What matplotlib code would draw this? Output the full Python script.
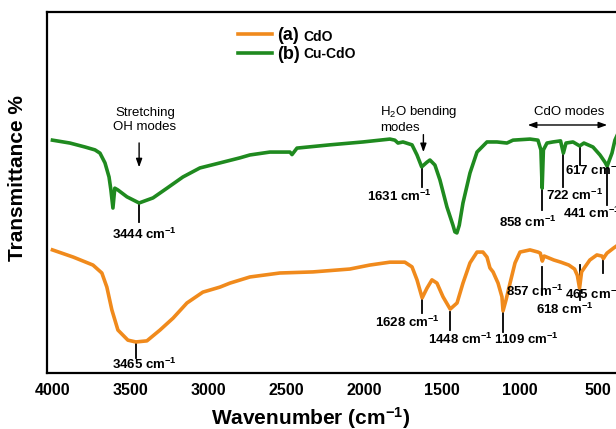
import matplotlib
matplotlib.use("Agg")
import matplotlib.pyplot as plt

plt.rcParams["font.family"] = ["Liberation Sans", "DejaVu Sans"]
plt.rcParams["mathtext.fontset"] = "custom"
plt.rcParams["mathtext.rm"] = "Liberation Sans"
plt.rcParams["mathtext.bf"] = "Liberation Sans:bold"
plt.rcParams["mathtext.it"] = "Liberation Sans:italic"

# ── FTIR spectra (wavenumber in cm-1, transmittance in arbitrary %) ──────────
wn_cucdo = [4000, 3888, 3791, 3727, 3695, 3663, 3637, 3625, 3612, 3600, 3580,
            3522, 3444, 3355, 3265, 3163, 3054, 2925, 2797, 2733, 2605, 2476,
            2463, 2431, 2220, 2008, 1835, 1803, 1783, 1751, 1693, 1661, 1631,
            1597, 1578, 1546, 1514, 1469, 1430, 1418, 1405, 1390, 1366, 1321,
            1276, 1212, 1148, 1084, 1045, 936, 885, 866, 858, 850, 827, 789,
            740, 722, 705, 660, 617, 590, 532, 487, 455, 441, 410, 391, 370]
t_cucdo = [64.5, 63.7, 62.6, 61.8, 60.9, 58.2, 54.3, 50.7, 45.7, 51.2, 50.7,
           48.8, 47.1, 48.5, 51.2, 54.3, 56.8, 58.2, 59.6, 60.4, 61.2, 61.2,
           60.5, 62.3, 63.2, 64.0, 64.8, 64.5, 63.7, 64.0, 63.2, 60.4, 57.1,
           58.4, 59.0, 57.6, 53.5, 46.0, 40.9, 39.1, 38.8, 40.9, 47.1, 55.4,
           61.2, 64.0, 64.0, 63.7, 64.5, 64.8, 64.5, 61.8, 51.2, 61.8, 63.7,
           64.0, 64.3, 60.9, 63.7, 64.0, 62.9, 63.7, 62.6, 60.4, 58.4, 57.3,
           60.9, 64.5, 66.5]

wn_cdo = [4000, 3866, 3740, 3683, 3651, 3619, 3580, 3516, 3465, 3394, 3310,
          3226, 3137, 3035, 2925, 2861, 2733, 2541, 2329, 2092, 1964, 1835,
          1739, 1693, 1661, 1628, 1597, 1565, 1533, 1494, 1448, 1404, 1366,
          1321, 1276, 1238, 1212, 1193, 1173, 1141, 1116, 1109, 1090, 1064,
          1032, 1000, 936, 885, 870, 857, 845, 783, 738, 687, 650, 632, 618,
          605, 583, 552, 507, 475, 465, 455, 442, 400, 370]
t_cdo = [34.1, 32.1, 29.9, 27.7, 23.8, 17.5, 11.9, 9.1, 8.6, 8.9, 11.9,
         15.2, 19.4, 22.4, 23.8, 24.9, 26.6, 27.7, 28.0, 28.8, 29.9, 30.7,
         30.7, 29.4, 25.8, 20.8, 23.5, 25.8, 24.9, 21.1, 17.7, 19.4, 24.9,
         30.5, 33.5, 33.5, 32.1, 29.1, 28.0, 24.9, 21.1, 17.2, 20.2, 24.9,
         30.5, 33.5, 34.1, 33.5, 33.2, 31.0, 32.4, 31.3, 30.7, 29.9, 28.8,
         27.0, 23.5, 28.0, 29.4, 31.3, 32.7, 32.4, 31.7, 32.4, 33.2, 34.6,
         35.5]

# peak positions and their marker spans (top, bottom)
peaks_cucdo = [3444, 1631, 858, 722, 617, 441]
span_cucdo = [(46.8, 41.8), (56.8, 51.5), (50.7, 45.2), (61.2, 51.5),
              (63.2, 57.6), (57.1, 46.5)]
peaks_cdo = [3465, 1628, 1448, 1109, 857, 618, 465]
span_cdo = [(8.6, 4.2), (20.2, 16.6), (16.9, 11.9), (16.6, 11.4),
            (29.4, 21.6), (29.9, 20.2), (32.1, 27.7)]

# where each peak label sits: (x, y, horizontal alignment)
label_pos_cucdo = [(3407, 38.5, "center"), (1777, 48.8, "center"),
                   (949, 41.8, "center"), (648, 49.3, "center"),
                   (712, 56.2, "left"), (725, 44.3, "left")]
label_pos_cdo = [(3407, 2.5, "center"), (1722, 14.1, "center"),
                 (1385, 9.4, "center"), (956, 9.4, "center"),
                 (904, 22.7, "center"), (712, 17.7, "center"),
                 (712, 21.9, "left")]

xticks = [4000, 3500, 3000, 2500, 2000, 1500, 1000, 500]

ORANGE = "#f08a1c"
GREEN = "#1f8a1f"

fig = plt.figure(figsize=(6.16, 4.29), dpi=100)
ax = fig.add_axes([47 / 616, 56 / 429, 603 / 616, 361 / 429])

line_a, = ax.plot(wn_cdo, t_cdo, color=ORANGE, lw=2.6, solid_joinstyle="round")
line_b, = ax.plot(wn_cucdo, t_cucdo, color=GREEN, lw=2.6, solid_joinstyle="round")

ax.set_xlim(4035, 166)
ax.set_ylim(0, 100)


def mark_peaks(peaks, spans, positions):
    for p, (y0, y1), (tx, ty, ha) in zip(peaks, spans, positions):
        ax.plot([p, p], [y0, y1], color="black", lw=1.3, zorder=1)
        ax.text(tx, ty, f"{p} cm$^{{\\mathbf{{-1}}}}$", ha=ha, va="center",
                fontsize=9.5, fontweight="bold")


mark_peaks(peaks_cucdo, span_cucdo, label_pos_cucdo)
mark_peaks(peaks_cdo, span_cdo, label_pos_cdo)

arrow = dict(arrowstyle="-|>,head_length=0.5,head_width=0.18", color="black", lw=1.0)
ax.annotate("", xy=(3444, 56.2), xytext=(3444, 64.5), arrowprops=arrow)
ax.text(3407, 70.1, "Stretching\nOH modes", ha="center", va="center",
        fontsize=9.5, linespacing=1.25)

ax.annotate("", xy=(1620, 60.4), xytext=(1620, 66.8), arrowprops=arrow)
ax.text(1899, 70.4, "H$\\mathregular{_2}$O bending\nmodes", ha="left",
        va="center", fontsize=9.5, linespacing=1.25)

ax.annotate("", xy=(968, 68.7), xytext=(423, 68.7),
            arrowprops=dict(arrowstyle="<|-|>,head_length=0.5,head_width=0.18",
                            color="black", lw=1.0))
ax.text(686, 72.3, "CdO modes", ha="center", va="center", fontsize=9.5)

# legend: sample letters from the legend, names next to them
leg = ax.legend([line_a, line_b], ["(a)", "(b)"], loc="upper left",
                bbox_to_anchor=(238 / 616, 1 - 27 / 429), bbox_transform=fig.transFigure,
                frameon=False, borderpad=0, borderaxespad=0, handlelength=1.9,
                handletextpad=0.25, labelspacing=0.12,
                prop=dict(size=13, weight="bold"))
fig.text(303 / 616, 1 - 37 / 429, "CdO", fontsize=10, fontweight="bold", va="center")
fig.text(303 / 616, 1 - 54 / 429, "Cu-CdO", fontsize=10, fontweight="bold", va="center")

ax.set_xticks(xticks)
ax.set_xticklabels([str(t) for t in xticks], fontsize=11.5, fontweight="bold")
ax.tick_params(axis="x", length=0, pad=7)
ax.set_yticks([])
for side in ["left", "bottom", "top", "right"]:
    ax.spines[side].set_linewidth(1.6)

ax.set_xlabel("Wavenumber (cm$^{\\mathbf{-1}}$)", fontsize=15, fontweight="bold")
ax.xaxis.set_label_coords(0.437, -0.088)
ax.set_ylabel("Transmittance %", fontsize=15, fontweight="bold")
ax.yaxis.set_label_coords(-0.033, 0.54)

fig.savefig("out.png", dpi=100)
